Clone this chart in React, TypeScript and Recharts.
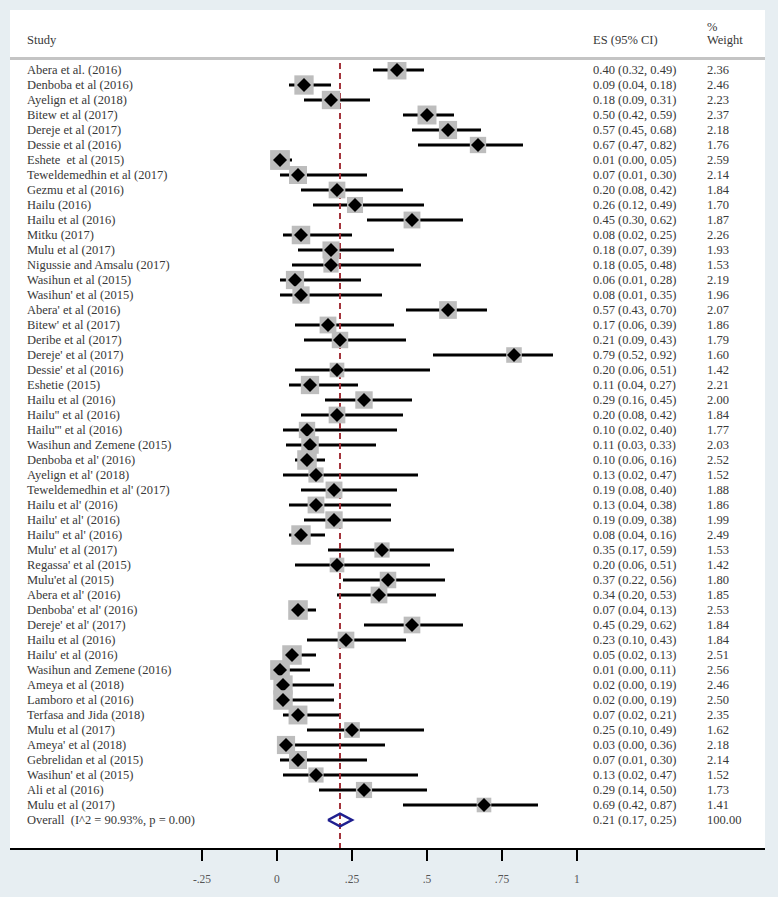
import { ScatterChart, Scatter, XAxis, YAxis, ErrorBar, ReferenceLine } from 'recharts';

const studies = [
  'Abera et al. (2016)', 'Denboba et al (2016)', 'Ayelign et al (2018)', 'Bitew et al (2017)',
  'Dereje et al (2017)', 'Dessie et al (2016)', 'Eshete  et al (2015)', 'Teweldemedhin et al (2017)',
  'Gezmu et al (2016)', 'Hailu (2016)', 'Hailu et al (2016)', 'Mitku (2017)', 'Mulu et al (2017)',
  'Nigussie and Amsalu (2017)', 'Wasihun et al (2015)', "Wasihun' et al (2015)", "Abera' et al (2016)",
  "Bitew' et al (2017)", 'Deribe et al (2017)', "Dereje' et al (2017)", "Dessie' et al (2016)",
  'Eshetie (2015)', 'Hailu et al (2016)', "Hailu'' et al (2016)", "Hailu''' et al (2016)",
  'Wasihun and Zemene (2015)', "Denboba et al' (2016)", "Ayelign et al' (2018)",
  "Teweldemedhin et al' (2017)", "Hailu et al' (2016)", "Hailu' et al' (2016)", "Hailu'' et al' (2016)",
  "Mulu' et al (2017)", "Regassa' et al (2015)", "Mulu'et al (2015)", "Abera et al' (2016)",
  "Denboba' et al' (2016)", "Dereje' et al' (2017)", 'Hailu et al (2016)', "Hailu' et al (2016)",
  'Wasihun and Zemene (2016)', 'Ameya et al (2018)', 'Lamboro et al (2016)', 'Terfasa and Jida (2018)',
  'Mulu et al (2017)', "Ameya' et al (2018)", 'Gebrelidan et al (2015)', "Wasihun' et al (2015)",
  'Ali et al (2016)', 'Mulu et al (2017)',
];

const esValues = [
  0.40, 0.09, 0.18, 0.50, 0.57, 0.67, 0.01, 0.07, 0.20, 0.26, 0.45, 0.08, 0.18, 0.18, 0.06, 0.08, 0.57,
  0.17, 0.21, 0.79, 0.20, 0.11, 0.29, 0.20, 0.10, 0.11, 0.10, 0.13, 0.19, 0.13, 0.19, 0.08, 0.35, 0.20,
  0.37, 0.34, 0.07, 0.45, 0.23, 0.05, 0.01, 0.02, 0.02, 0.07, 0.25, 0.03, 0.07, 0.13, 0.29, 0.69,
];

const ciLower = [
  0.32, 0.04, 0.09, 0.42, 0.45, 0.47, 0.00, 0.01, 0.08, 0.12, 0.30, 0.02, 0.07, 0.05, 0.01, 0.01, 0.43,
  0.06, 0.09, 0.52, 0.06, 0.04, 0.16, 0.08, 0.02, 0.03, 0.06, 0.02, 0.08, 0.04, 0.09, 0.04, 0.17, 0.06,
  0.22, 0.20, 0.04, 0.29, 0.10, 0.02, 0.00, 0.00, 0.00, 0.02, 0.10, 0.00, 0.01, 0.02, 0.14, 0.42,
];

const ciUpper = [
  0.49, 0.18, 0.31, 0.59, 0.68, 0.82, 0.05, 0.30, 0.42, 0.49, 0.62, 0.25, 0.39, 0.48, 0.28, 0.35, 0.70,
  0.39, 0.43, 0.92, 0.51, 0.27, 0.45, 0.42, 0.40, 0.33, 0.16, 0.47, 0.40, 0.38, 0.38, 0.16, 0.59, 0.51,
  0.56, 0.53, 0.13, 0.62, 0.43, 0.13, 0.11, 0.19, 0.19, 0.21, 0.49, 0.36, 0.30, 0.47, 0.50, 0.87,
];

const weights = [
  2.36, 2.46, 2.23, 2.37, 2.18, 1.76, 2.59, 2.14, 1.84, 1.70, 1.87, 2.26, 1.93, 1.53, 2.19, 1.96, 2.07,
  1.86, 1.79, 1.60, 1.42, 2.21, 2.00, 1.84, 1.77, 2.03, 2.52, 1.52, 1.88, 1.86, 1.99, 2.49, 1.53, 1.42,
  1.80, 1.85, 2.53, 1.84, 1.84, 2.51, 2.56, 2.46, 2.50, 2.35, 1.62, 2.18, 2.14, 1.52, 1.73, 1.41,
];

const overallLabel = 'Overall  (I^2 = 90.93%, p = 0.00)';
const overallES = 0.21;
const overallLower = 0.17;
const overallUpper = 0.25;
const overallWeight = 100.0;

const xTicks = [-0.25, 0, 0.25, 0.5, 0.75, 1];
const xTickLabels = ['-.25', '0', '.25', '.5', '.75', '1'];

const FONT = '"Liberation Serif", "Times New Roman", serif';
const TEXT = '#383838';

const studyData = studies.map((name, i) => ({
  x: esValues[i],
  y: i,
  err: [esValues[i] - ciLower[i], ciUpper[i] - esValues[i]],
  weight: weights[i],
}));

const overallRow = studies.length;
const overallData = [
  { x: overallLower, y: overallRow },
  { x: overallES, y: overallRow - 0.42 },
  { x: overallUpper, y: overallRow },
  { x: overallES, y: overallRow + 0.42 },
  { x: overallLower, y: overallRow },
];

// one invisible point per row, used only to place the table text on the row's y
const rowData = [...studies, overallLabel].map((label, i) => ({
  x: 0,
  y: i,
  label,
  es: i < studies.length ? esValues[i] : overallES,
  lo: i < studies.length ? ciLower[i] : overallLower,
  hi: i < studies.length ? ciUpper[i] : overallUpper,
  weight: i < studies.length ? weights[i] : overallWeight,
}));

const StudyMarker = (props: any) => {
  const { cx, cy, payload } = props;
  if (cx == null || cy == null) return <g />;
  const side = 12.3 * Math.sqrt(payload.weight);
  const d = 7;
  return (
    <g>
      <rect x={cx - side / 2} y={cy - side / 2} width={side} height={side} fill="#bdbdbd" />
      <polygon points={`${cx - d},${cy} ${cx},${cy - d} ${cx + d},${cy} ${cx},${cy + d}`} fill="#000" />
    </g>
  );
};

const RowText = (props: any) => {
  const { cy, payload } = props;
  if (cy == null) return <g />;
  const common = { fontFamily: FONT, fontSize: 12.5, fill: TEXT, dy: '0.35em' };
  return (
    <g>
      <text x={27} y={cy} {...common} style={{ whiteSpace: 'pre' }}>
        {payload.label}
      </text>
      <text x={593} y={cy} {...common}>
        {`${payload.es.toFixed(2)} (${payload.lo.toFixed(2)}, ${payload.hi.toFixed(2)})`}
      </text>
      <text x={707} y={cy} {...common}>
        {payload.weight.toFixed(2)}
      </text>
    </g>
  );
};

const headerStyle = {
  position: 'absolute' as const,
  fontFamily: FONT,
  fontSize: 12.5,
  color: TEXT,
  lineHeight: '14px',
};

export default function App() {
  return (
    <div style={{ position: 'absolute', left: 0, top: 0, width: 778, height: 897, background: '#e7eef2' }}>
      <div style={{ position: 'absolute', left: 10, top: 10, width: 755, height: 839, background: '#fff' }} />
      <div style={{ position: 'absolute', left: 10, top: 57, width: 755, height: 3, background: '#c4c4c4' }} />
      <div style={{ ...headerStyle, left: 27, top: 33 }}>Study</div>
      <div style={{ ...headerStyle, left: 593, top: 33 }}>ES (95% CI)</div>
      <div style={{ ...headerStyle, left: 707, top: 20 }}>%</div>
      <div style={{ ...headerStyle, left: 707, top: 33 }}>Weight</div>
      <div style={{ position: 'absolute', left: 0, top: 0 }}>
        <ScatterChart width={778} height={897} margin={{ top: 62, right: 13, bottom: 8, left: 10 }}>
          <XAxis
            type="number"
            dataKey="x"
            domain={[-0.89, 1.6267]}
            allowDataOverflow
            ticks={xTicks}
            tickFormatter={(v: number) => xTickLabels[xTicks.indexOf(v)] ?? String(v)}
            height={40}
            axisLine={{ stroke: '#000', strokeWidth: 2 }}
            tickLine={{ stroke: '#000', strokeWidth: 2 }}
            tickSize={12}
            tickMargin={14}
            tick={{ fill: '#555', fontSize: 11.5, fontFamily: FONT }}
          />
          <YAxis
            type="number"
            dataKey="y"
            domain={[-0.5333, 51.9333]}
            allowDataOverflow
            reversed
            width={0}
            hide
          />
          <Scatter data={rowData} shape={<RowText />} isAnimationActive={false} />
          <Scatter data={studyData} shape={<StudyMarker />} isAnimationActive={false}>
            <ErrorBar dataKey="err" direction="x" width={0} stroke="#000" strokeWidth={3} isAnimationActive={false} />
          </Scatter>
          <ReferenceLine x={overallES} stroke="#a3343c" strokeWidth={2} strokeDasharray="6 4" />
          <Scatter
            data={overallData}
            line={{ stroke: '#1f1f8f', strokeWidth: 2.5 }}
            lineType="joint"
            shape={() => <g />}
            isAnimationActive={false}
          />
        </ScatterChart>
      </div>
    </div>
  );
}
